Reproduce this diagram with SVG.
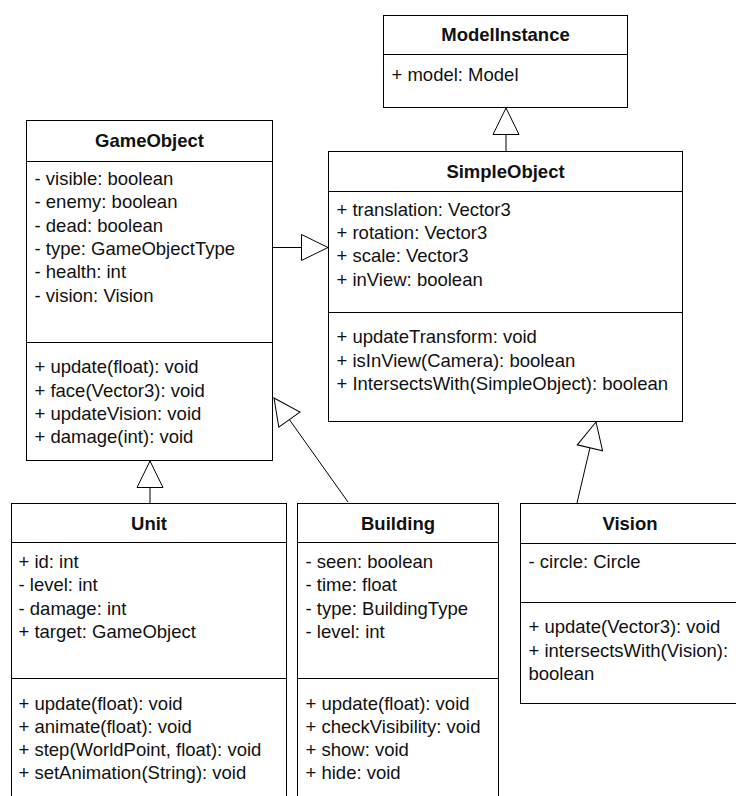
<svg xmlns="http://www.w3.org/2000/svg" width="736" height="796" viewBox="0 0 736 796">
<style>
.box{fill:#fff;stroke:#000;stroke-width:1}
.sep{stroke:#000;stroke-width:1}
text{font-family:"Liberation Sans",Arial,Helvetica,sans-serif;font-size:18.5px;fill:#111}
.t{font-weight:bold;text-anchor:middle}
.c{fill:none;stroke:#000;stroke-width:1}
</style>
<defs>
<marker id="gen" viewBox="0 0 30 30" refX="28" refY="15" markerWidth="30" markerHeight="30" markerUnits="userSpaceOnUse" orient="auto">
<path d="M1.5,2 L28,15 L1.5,28 Z" fill="#fff" stroke="#000" stroke-width="1"/>
</marker>
</defs>
<rect width="736" height="796" fill="#fff"/>
<g id="connectors">
<path class="c" d="M506,151 L506,108" marker-end="url(#gen)"/>
<path class="c" d="M273,247.5 L328,247.5" marker-end="url(#gen)"/>
<path class="c" d="M150,503 L150,461" marker-end="url(#gen)"/>
<path class="c" d="M348,502 L274,398" marker-end="url(#gen)"/>
<path class="c" d="M577,503 L596,422" marker-end="url(#gen)"/>
</g>
<g id="ModelInstance">
<rect class="box" x="383.5" y="15.5" width="244" height="92"/>
<line class="sep" x1="383.5" y1="54.5" x2="627.5" y2="54.5"/>
<text class="t" x="505.5" y="41">ModelInstance</text>
<text x="391.5" y="81">+ model: Model</text>
</g>
<g id="GameObject">
<rect class="box" x="26.5" y="120.5" width="246" height="340"/>
<line class="sep" x1="26.5" y1="161.5" x2="272.5" y2="161.5"/>
<line class="sep" x1="26.5" y1="342.5" x2="272.5" y2="342.5"/>
<text class="t" x="149.5" y="146.5">GameObject</text>
<text x="34.5" y="185">- visible: boolean</text>
<text x="34.5" y="208.3">- enemy: boolean</text>
<text x="34.5" y="231.6">- dead: boolean</text>
<text x="34.5" y="254.9">- type: GameObjectType</text>
<text x="34.5" y="278.2">- health: int</text>
<text x="34.5" y="301.5">- vision: Vision</text>
<text x="34.5" y="373.3">+ update(float): void</text>
<text x="34.5" y="396.6">+ face(Vector3): void</text>
<text x="34.5" y="419.9">+ updateVision: void</text>
<text x="34.5" y="443.2">+ damage(int): void</text>
</g>
<g id="SimpleObject">
<rect class="box" x="328.5" y="151.5" width="354" height="270"/>
<line class="sep" x1="328.5" y1="191.5" x2="682.5" y2="191.5"/>
<line class="sep" x1="328.5" y1="312.5" x2="682.5" y2="312.5"/>
<text class="t" x="505.5" y="177.5">SimpleObject</text>
<text x="336.5" y="216">+ translation: Vector3</text>
<text x="336.5" y="239.2">+ rotation: Vector3</text>
<text x="336.5" y="262.4">+ scale: Vector3</text>
<text x="336.5" y="285.6">+ inView: boolean</text>
<text x="336.5" y="343.3">+ updateTransform: void</text>
<text x="336.5" y="366.6">+ isInView(Camera): boolean</text>
<text x="336.5" y="389.9">+ IntersectsWith(SimpleObject): boolean</text>
</g>
<g id="Unit">
<rect class="box" x="11.5" y="503.5" width="275" height="300"/>
<line class="sep" x1="11.5" y1="542.5" x2="286.5" y2="542.5"/>
<line class="sep" x1="11.5" y1="678.5" x2="286.5" y2="678.5"/>
<text class="t" x="149" y="529.5">Unit</text>
<text x="18.5" y="568">+ id: int</text>
<text x="18.5" y="591.3">- level: int</text>
<text x="18.5" y="614.6">- damage: int</text>
<text x="18.5" y="637.9">+ target: GameObject</text>
<text x="18.5" y="709.5">+ update(float): void</text>
<text x="18.5" y="732.8">+ animate(float): void</text>
<text x="18.5" y="756.1">+ step(WorldPoint, float): void</text>
<text x="18.5" y="779.4">+ setAnimation(String): void</text>
</g>
<g id="Building">
<rect class="box" x="297.5" y="503.5" width="201" height="300"/>
<line class="sep" x1="297.5" y1="542.5" x2="498.5" y2="542.5"/>
<line class="sep" x1="297.5" y1="678.5" x2="498.5" y2="678.5"/>
<text class="t" x="398" y="529.5">Building</text>
<text x="305.5" y="568">- seen: boolean</text>
<text x="305.5" y="591.3">- time: float</text>
<text x="305.5" y="614.6">- type: BuildingType</text>
<text x="305.5" y="637.9">- level: int</text>
<text x="305.5" y="709.5">+ update(float): void</text>
<text x="305.5" y="732.8">+ checkVisibility: void</text>
<text x="305.5" y="756.1">+ show: void</text>
<text x="305.5" y="779.4">+ hide: void</text>
</g>
<g id="Vision">
<rect class="box" x="520.5" y="503.5" width="220" height="200"/>
<line class="sep" x1="520.5" y1="543.5" x2="740.5" y2="543.5"/>
<line class="sep" x1="520.5" y1="602.5" x2="740.5" y2="602.5"/>
<text class="t" x="630" y="529.5">Vision</text>
<text x="528.5" y="568.3">- circle: Circle</text>
<text x="528.5" y="633.3">+ update(Vector3): void</text>
<text x="528.5" y="656.5">+ intersectsWith(Vision):</text>
<text x="528.5" y="679.7">boolean</text>
</g>
</svg>
